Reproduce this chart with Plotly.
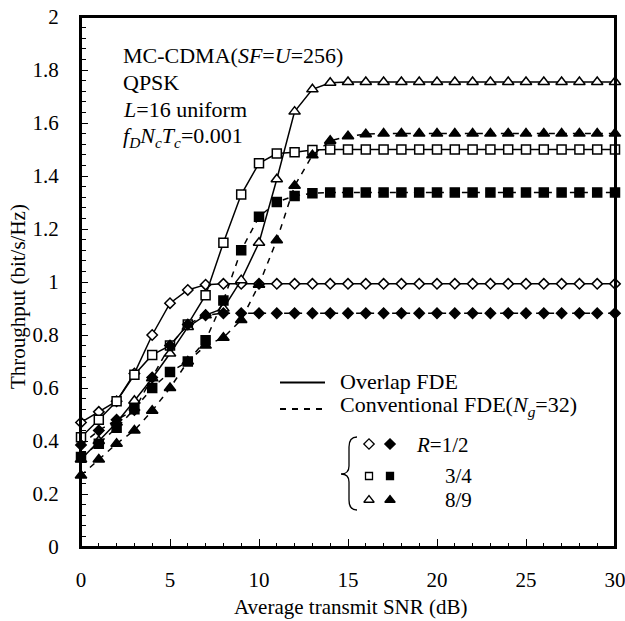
import plotly.graph_objects as go

# ---------------- data ----------------
snr_db = [0, 1, 2, 3, 4, 5, 6, 7, 8, 9, 10, 11, 12, 13, 14, 15, 16, 17, 18, 19, 20,
          21, 22, 23, 24, 25, 26, 27, 28, 29, 30]

overlap_r12 = [0.47, 0.51, 0.55, 0.655, 0.80, 0.92, 0.97, 0.99, 0.993, 0.993, 0.993,
               0.993, 0.993, 0.993, 0.993, 0.993, 0.993, 0.993, 0.993, 0.993, 0.993,
               0.993, 0.993, 0.993, 0.993, 0.993, 0.993, 0.993, 0.993, 0.993, 0.993]
conv_r12 = [0.385, 0.44, 0.48, 0.517, 0.64, 0.76, 0.84, 0.875, 0.882, 0.882, 0.882,
            0.882, 0.882, 0.882, 0.882, 0.882, 0.882, 0.882, 0.882, 0.882, 0.882,
            0.882, 0.882, 0.882, 0.882, 0.882, 0.882, 0.882, 0.882, 0.882, 0.882]
overlap_r34 = [0.414, 0.48, 0.55, 0.65, 0.725, 0.76, 0.84, 0.95, 1.148, 1.33, 1.448,
               1.485, 1.49, 1.498, 1.5, 1.5, 1.5, 1.5, 1.5, 1.5, 1.5,
               1.5, 1.5, 1.5, 1.5, 1.5, 1.5, 1.5, 1.5, 1.5, 1.5]
conv_r34 = [0.34, 0.39, 0.45, 0.52, 0.60, 0.66, 0.70, 0.78, 0.93, 1.12, 1.246,
            1.302, 1.325, 1.335, 1.338, 1.338, 1.338, 1.338, 1.338, 1.338, 1.338,
            1.338, 1.338, 1.338, 1.338, 1.338, 1.338, 1.338, 1.338, 1.338, 1.338]
overlap_r89 = [0.33, 0.40, 0.47, 0.552, 0.637, 0.73, 0.83, 0.875, 0.90, 1.007, 1.148,
               1.388, 1.643, 1.727, 1.752, 1.755, 1.755, 1.755, 1.755, 1.755, 1.755,
               1.755, 1.755, 1.755, 1.755, 1.755, 1.755, 1.755, 1.755, 1.755, 1.755]
conv_r89 = [0.27, 0.33, 0.39, 0.44, 0.514, 0.60, 0.70, 0.76, 0.79, 0.857, 0.99,
            1.158, 1.363, 1.478, 1.533, 1.55, 1.558, 1.56, 1.56, 1.56, 1.56,
            1.56, 1.56, 1.56, 1.56, 1.56, 1.56, 1.56, 1.56, 1.56, 1.56]

x_ticks = [0, 5, 10, 15, 20, 25, 30]
y_ticks = [0, 0.2, 0.4, 0.6, 0.8, 1, 1.2, 1.4, 1.6, 1.8, 2]
X_RANGE = [0, 30]
Y_RANGE = [0, 2]

FONT = "Liberation Serif"
W, H = 625, 621
ML, MR, MT, MB = 81, 10, 17, 74
PW, PH = W - ML - MR, H - MT - MB


def px2paper(px, py):
    """window pixel -> paper coords"""
    return (px - ML) / PW, (H - MB - py) / PH


def paper2data(fx, fy):
    return (X_RANGE[0] + fx * (X_RANGE[1] - X_RANGE[0]),
            Y_RANGE[0] + fy * (Y_RANGE[1] - Y_RANGE[0]))


series = [
    (overlap_r12, "diamond", "white", "solid", 8),
    (overlap_r34, "square", "white", "solid", 9),
    (overlap_r89, "triangle-up", "white", "solid", 10),
    (conv_r12, "diamond", "black", "6px,6px", 8),
    (conv_r34, "square", "black", "6px,6px", 9),
    (conv_r89, "triangle-up", "black", "6px,6px", 10),
]

fig = go.Figure()
for vals, sym, fill, dash, size in series:
    fig.add_trace(go.Scatter(
        x=snr_db, y=vals, mode="lines+markers",
        line=dict(color="black", width=1.5, dash=dash),
        marker=dict(symbol=sym, size=size, color=fill,
                    line=dict(color="black", width=1.5)),
        showlegend=False, cliponaxis=False,
    ))

# legend key markers (placed via pixel -> paper -> axis conversion)
key_rows = [("diamond", 444, 8), ("square", 476, 7), ("triangle-up", 500, 9)]
for sym, py, sz in key_rows:
    for px, fill in [(369, "white"), (390, "black")]:
        dx, dy = paper2data(*px2paper(px, py))
        fig.add_trace(go.Scatter(
            x=[dx], y=[dy], mode="markers",
            marker=dict(symbol=sym, size=sz, color=fill,
                        line=dict(color="black", width=1.3)),
            showlegend=False, hoverinfo="skip"))

axis_common = dict(showline=True, linewidth=2, linecolor="black", mirror=True,
                   showgrid=False, zeroline=False, ticks="inside",
                   tickcolor="black", automargin=False, ticklabeloverflow="allow",
                   tickfont=dict(family=FONT, size=21, color="black"))

fig.update_layout(
    width=W, height=H,
    margin=dict(l=ML, r=MR, t=MT, b=MB),
    paper_bgcolor="white", plot_bgcolor="white",
    font=dict(family=FONT, color="black"),
    xaxis=dict(range=X_RANGE, tickvals=x_ticks, ticklen=8, tickwidth=1.3,
               minor=dict(dtick=1, ticks="inside", ticklen=4, tickcolor="black", tickwidth=1),
               ticklabelstandoff=13, **axis_common),
    yaxis=dict(range=Y_RANGE, tickvals=y_ticks, ticklen=7, tickwidth=1.3,
               minor=dict(dtick=0.04, ticks="inside", ticklen=5, tickcolor="black", tickwidth=1),
               ticklabelstandoff=16, **axis_common),
)

ann = []
# axis titles
ann.append(dict(text="Average transmit SNR (dB)", xref="paper", yref="paper",
                x=px2paper(350, 0)[0], y=px2paper(0, 607)[1], xanchor="center", yanchor="middle",
                showarrow=False, font=dict(family=FONT, size=21, color="black")))
ann.append(dict(text="Throughput (bit/s/Hz)", xref="paper", yref="paper",
                x=px2paper(18, 0)[0], y=px2paper(0, 297)[1], xanchor="center",
                yanchor="middle", textangle=-90, showarrow=False,
                font=dict(family=FONT, size=21, color="black")))

info_lines = [
    ("MC-CDMA(<i>SF</i>=<i>U</i>=256)", 56),
    ("QPSK", 83),
    ("<i>L</i>=16 uniform", 110),
    ("<i>f</i><sub><i>D</i></sub><i>N</i><sub><i>c</i></sub><i>T</i><sub><i>c</i></sub>=0.001", 137),
]
for txt, py in info_lines:
    fx, fy = px2paper(121, py)
    ann.append(dict(text=txt, xref="paper", yref="paper", x=fx, y=fy,
                    xanchor="left", yanchor="middle", showarrow=False,
                    font=dict(family=FONT, size=22, color="black")))

legend_text = [
    ("Overlap FDE", 338, 381, 22),
    ("Conventional FDE(<i>N</i><sub><i>g</i></sub>=32)", 338, 406, 22),
    ("<i>R</i>=1/2", 414, 445, 21),
    ("3/4", 443, 476, 21),
    ("8/9", 443, 500, 21),
]
for txt, px, py, fs in legend_text:
    fx, fy = px2paper(px, py)
    ann.append(dict(text=txt, xref="paper", yref="paper", x=fx, y=fy,
                    xanchor="left", yanchor="middle", showarrow=False,
                    font=dict(family=FONT, size=fs, color="black")))
fig.update_layout(annotations=ann)

shapes = []
# frame of the plotting area, in axis units
shapes.append(dict(type="rect", xref="x", yref="y",
                   x0=X_RANGE[0], x1=X_RANGE[1], y0=Y_RANGE[0], y1=Y_RANGE[1],
                   line=dict(color="black", width=2), layer="above"))
# legend line keys
for py, dash in [(382.5, "solid"), (409, "6px,6px")]:
    x0, y0 = px2paper(280, py)
    x1, _ = px2paper(325, py)
    shapes.append(dict(type="line", xref="paper", yref="paper", x0=x0, x1=x1,
                       y0=y0, y1=y0, line=dict(color="black", width=2, dash=dash)))

# brace
brace_pts = [("M", [(357, 437)]), ("Q", [(349, 437), (349, 447)]), ("L", [(349, 466)]),
             ("Q", [(349, 474), (341, 474)]), ("Q", [(349, 474), (349, 482)]),
             ("L", [(349, 500)]), ("Q", [(349, 510), (357, 510)])]
path = ""
for cmd, pts in brace_pts:
    path += cmd + " " + " ".join("%.5f,%.5f" % px2paper(a, b) for a, b in pts) + " "
shapes.append(dict(type="path", xref="paper", yref="paper", path=path.strip(),
                   line=dict(color="black", width=1.3)))
fig.update_layout(shapes=shapes)

fig.write_html(
    "out.html",
    config={"displayModeBar": False},
    post_script="document.body.style.margin='0';document.body.style.overflow='hidden';",
)
